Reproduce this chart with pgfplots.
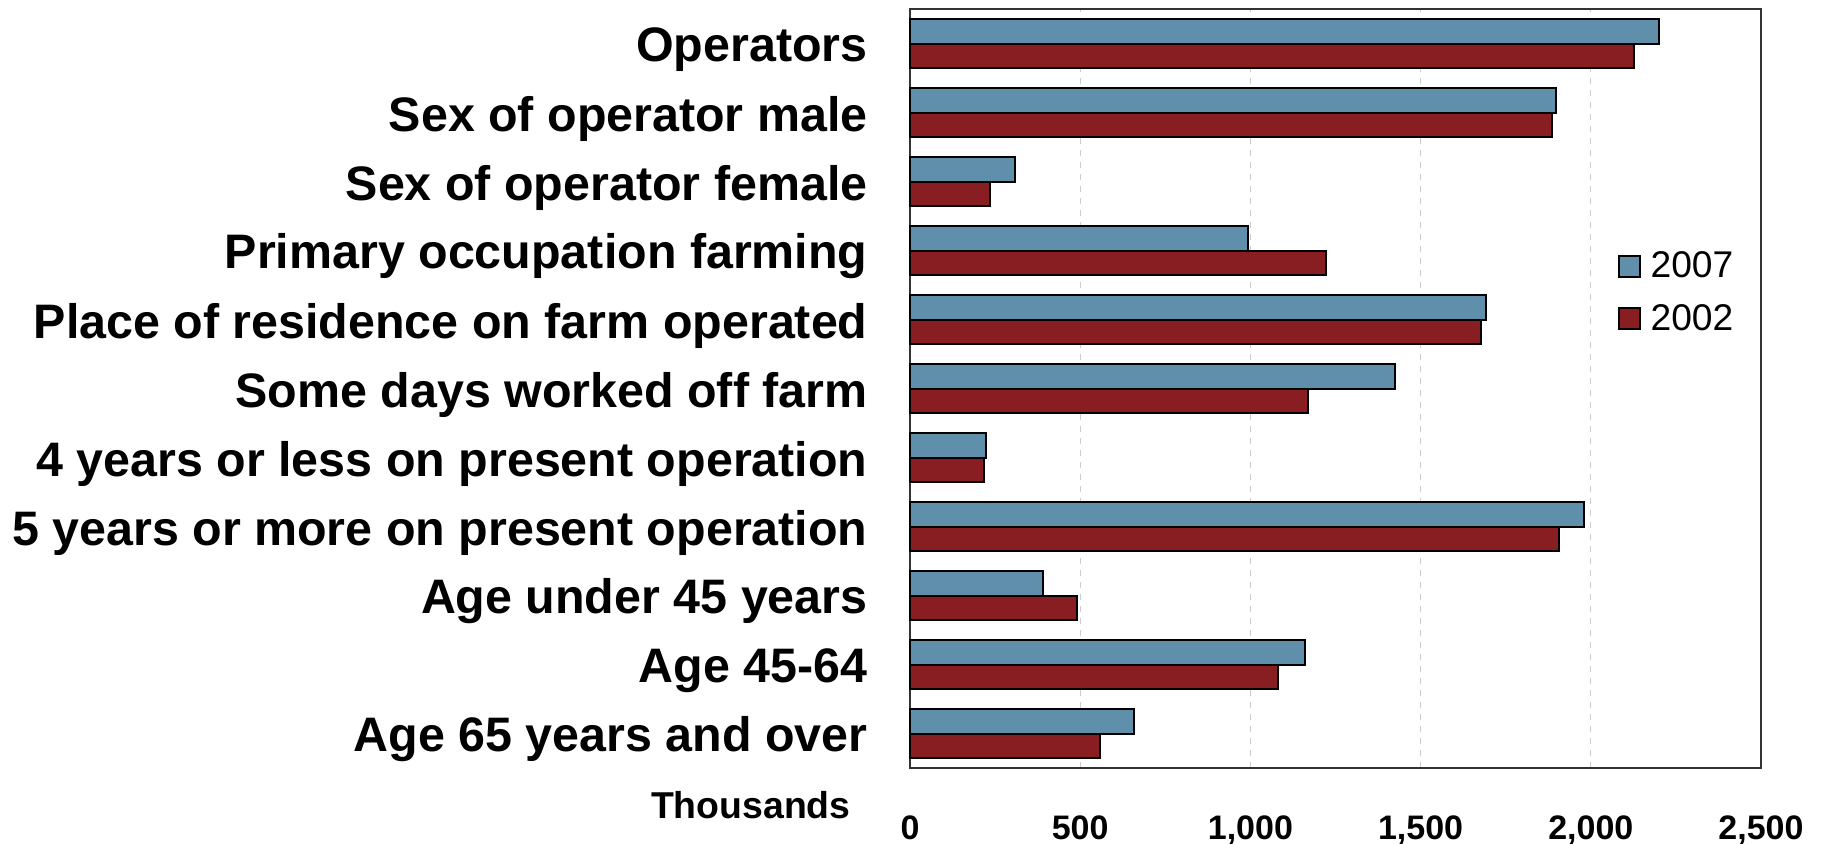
\documentclass[border=0pt]{standalone}
\usepackage{pgfplots}
\pgfplotsset{compat=1.18}
\usepackage{fontspec}
\setmainfont{Liberation Sans}
\definecolor{c07}{RGB}{96,143,172}
\definecolor{c02}{RGB}{136,30,34}
\begin{document}
\begin{tikzpicture}
\path[use as bounding box] (-455pt,-37.5pt) rectangle (457pt,384pt);
\begin{axis}[
 at={(0,0)}, anchor=south west,
 scale only axis, width=425.5pt, height=379.5pt,
 xbar, bar width=12.25pt,
 xmin=0, xmax=2500, ymin=-0.5, ymax=10.5,
 xtick={0,500,1000,1500,2000,2500},
 ytick={0,1,2,3,4,5,6,7,8,9,10},
 yticklabels={Age 65 years and over, Age 45-64, Age under 45 years, 5 years or more on present operation, 4 years or less on present operation, Some days worked off farm, Place of residence on farm operated, Primary occupation farming, Sex of operator female, Sex of operator male, Operators},
 major tick length=0pt,
 xmajorgrids, grid style={dashed, black!20, line width=0.6pt},
 axis line style={line width=0.6pt, black!80},
 /pgf/number format/assume math mode=true,
 /pgf/number format/1000 sep={,},
 xticklabel style={font={\bfseries\fontsize{17pt}{20pt}\selectfont}, inner sep=0pt, anchor=north, yshift=-23.5pt},
 yticklabel style={font={\bfseries\fontsize{24.2pt}{28pt}\selectfont}, inner sep=0pt, anchor=east, xshift=-21pt, yshift=-3pt},
 legend image code/.code={\draw[#1, draw=black, line width=1pt] (0pt,-5.25pt) rectangle (10.5pt,5.25pt);},
 legend style={at={(rel axis cs:0.831,0.6265)}, anchor=west, draw=none, fill=none, inner sep=0pt,
   font={\fontsize{18.6pt}{21pt}\selectfont}, row sep=8pt, nodes={inner sep=2pt}},
 legend cell align=left,
 legend style={/tikz/every odd column/.append style={column sep=3pt}},
 clip=false,
]
\addplot[fill=c07, draw=black, line width=1pt, bar shift=6.125pt] coordinates {
 (659,0) (1161,1) (390,2) (1981,3) (223,4) (1424,5) (1691,6) (994,7) (309,8) (1898,9) (2200,10)};
\addplot[fill=c02, draw=black, line width=1pt, bar shift=-6.125pt] coordinates {
 (557,0) (1080,1) (492,2) (1907,3) (216,4) (1168,5) (1677,6) (1222,7) (236,8) (1886,9) (2128,10)};
\legend{2007,2002}
\node[font={\bfseries\fontsize{18.7pt}{21pt}\selectfont}] at (rel axis cs:-0.187,-0.0487) {Thousands};
\end{axis}
\end{tikzpicture}
\end{document}
